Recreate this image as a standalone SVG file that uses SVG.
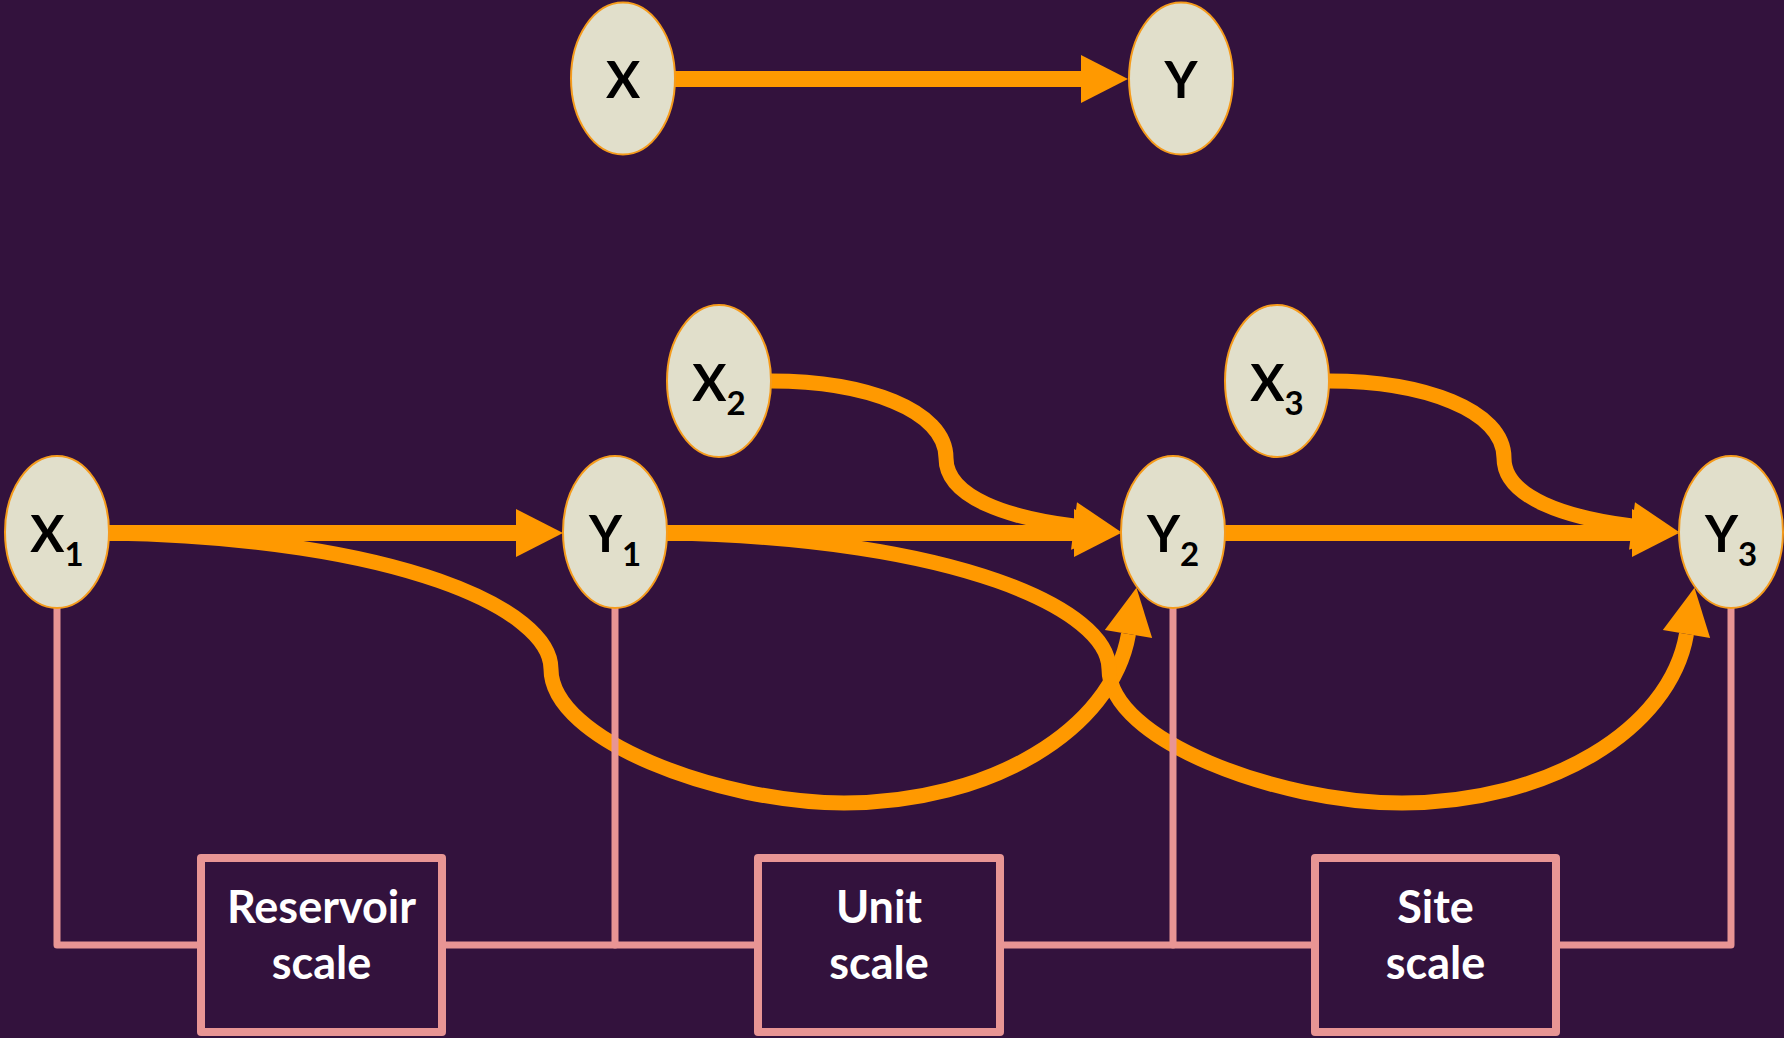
<svg xmlns="http://www.w3.org/2000/svg" width="1784" height="1038" viewBox="0 0 1784 1038">
  <defs>
    <marker id="ah" markerUnits="userSpaceOnUse" markerWidth="48" markerHeight="48" refX="0" refY="24" orient="auto" viewBox="0 0 48 48" overflow="visible">
      <path d="M0,0 L47,24 L0,48 z" fill="#FF9900"/>
    </marker>
  </defs>
  <style>
    .bg { fill: #33123D; }
    .arrow { fill: none; stroke: #FF9900; stroke-width: 16; marker-end: url(#ah); }
    .curve { fill: none; stroke: #FF9900; stroke-width: 15; marker-end: url(#ah); }
    .link { fill: none; stroke: #E89594; stroke-width: 7; stroke-linecap: round; stroke-linejoin: round; }
    .node ellipse { fill: #E1DFCB; stroke: #F59B1C; stroke-width: 2; }
    .lbl { font-family: Lato, "Open Sans", "Liberation Sans", sans-serif; font-weight: bold; font-size: 51px; fill: #000; text-anchor: middle; }
    .sub { font-size: 33px; }
    .box rect { fill: #33123D; stroke: #E89594; stroke-width: 8; stroke-linejoin: round; }
    .btxt { font-family: Lato, "Open Sans", "Liberation Sans", sans-serif; font-weight: bold; font-size: 45px; fill: #FFFFFF; text-anchor: middle; }
  </style>
  <rect class="bg" x="0" y="0" width="1784" height="1038"/>

  <g id="connectors">
    <g id="orange">
      <path class="arrow" d="M 675 79 H 1081"/>
      <path class="curve" d="M 109 533 C 400 538, 551 610, 551 669 C 551 740, 720 803, 844 803 C 990 803, 1112 730, 1128.5 634"/>
      <path class="curve" d="M 667 533 C 958 538, 1109 610, 1109 669 C 1109 740, 1278 803, 1402 803 C 1548 803, 1670 730, 1686.5 634"/>
      <path class="curve" d="M 771 381 C 865 381, 946 410, 946 458 C 946 498, 1010 518, 1074 526"/>
      <path class="curve" d="M 1329 381 C 1423 381, 1504 410, 1504 458 C 1504 498, 1568 518, 1632 526"/>
      <path class="arrow" d="M 109 533 H 516"/>
      <path class="arrow" d="M 667 533 H 1074"/>
      <path class="arrow" d="M 1225 533 H 1632"/>
    </g>
    <g id="pink">
      <path class="link" d="M 57 608 V 945 H 201"/>
      <path class="link" d="M 442 945 H 758"/>
      <path class="link" d="M 615 608 V 945"/>
      <path class="link" d="M 1000 945 H 1315"/>
      <path class="link" d="M 1173 608 V 945"/>
      <path class="link" d="M 1556 945 H 1731 V 608"/>
    </g>
  </g>

  <g id="node-X" class="node">
    <ellipse cx="623" cy="78.5" rx="52" ry="76"/>
    <text class="lbl" x="623" y="98">X</text>
  </g>
  <g id="node-Y" class="node">
    <ellipse cx="1181" cy="78.5" rx="52" ry="76"/>
    <text class="lbl" x="1181" y="98">Y</text>
  </g>
  <g id="node-X1" class="node">
    <ellipse cx="57" cy="532" rx="52" ry="76"/>
    <text class="lbl" x="57" y="552">X<tspan class="sub" dy="14">1</tspan></text>
  </g>
  <g id="node-Y1" class="node">
    <ellipse cx="615" cy="532" rx="52" ry="76"/>
    <text class="lbl" x="615" y="552">Y<tspan class="sub" dy="14">1</tspan></text>
  </g>
  <g id="node-Y2" class="node">
    <ellipse cx="1173" cy="532" rx="52" ry="76"/>
    <text class="lbl" x="1173" y="552">Y<tspan class="sub" dy="14">2</tspan></text>
  </g>
  <g id="node-Y3" class="node">
    <ellipse cx="1731" cy="532" rx="52" ry="76"/>
    <text class="lbl" x="1731" y="552">Y<tspan class="sub" dy="14">3</tspan></text>
  </g>
  <g id="node-X2" class="node">
    <ellipse cx="719" cy="381" rx="52" ry="76"/>
    <text class="lbl" x="719" y="401">X<tspan class="sub" dy="14">2</tspan></text>
  </g>
  <g id="node-X3" class="node">
    <ellipse cx="1277" cy="381" rx="52" ry="76"/>
    <text class="lbl" x="1277" y="401">X<tspan class="sub" dy="14">3</tspan></text>
  </g>

  <g id="box-reservoir" class="box">
    <rect x="201" y="858" width="241" height="174"/>
    <text class="btxt" x="321.5" y="923">Reservoir</text>
    <text class="btxt" x="321.5" y="979">scale</text>
  </g>
  <g id="box-unit" class="box">
    <rect x="758" y="858" width="242" height="174"/>
    <text class="btxt" x="879" y="923">Unit</text>
    <text class="btxt" x="879" y="979">scale</text>
  </g>
  <g id="box-site" class="box">
    <rect x="1315" y="858" width="241" height="174"/>
    <text class="btxt" x="1435.5" y="923">Site</text>
    <text class="btxt" x="1435.5" y="979">scale</text>
  </g>
</svg>
